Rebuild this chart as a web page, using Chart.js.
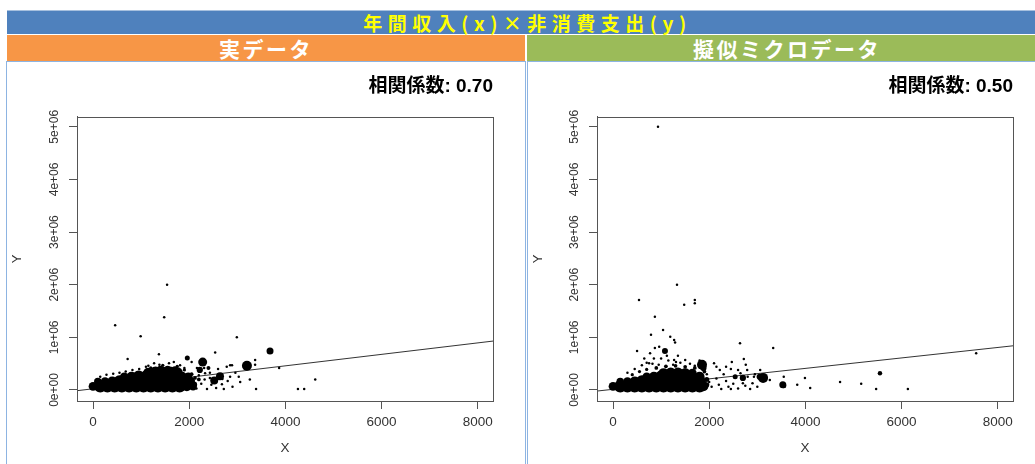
<!DOCTYPE html>
<html>
<head>
<meta charset="utf-8">
<script src="https://cdn.jsdelivr.net/npm/chart.js@4.4.1/dist/chart.umd.min.js"></script>
<style>
  html, body { margin: 0; padding: 0; background: #fff; overflow: hidden; }
  body { width: 1035px; height: 464px; position: relative; font-family: 'Noto Sans CJK JP', sans-serif; }
  #title { position: absolute; left: 7px; top: 10px; width: 1028px; height: 24px; background: #4F81BD;
           border-top: 1px solid #A7C0DE; box-sizing: border-box; padding-left: 13px;
           color: #FFFF00; font-weight: bold; font-size: 19px; line-height: 23px; text-align: center; letter-spacing: 5.5px; }
  .head { position: absolute; top: 35px; height: 26px; color: #fff; font-weight: bold; font-size: 21px;
          line-height: 26px; text-align: center; letter-spacing: 2.5px; box-sizing: border-box; }
  #h1 { left: 7px; width: 518px; background: #F79646; }
  #h2 { left: 527px; width: 508px; background: #9BBB59; padding-left: 12px; }
  .panel { position: absolute; top: 61px; height: 420px; box-sizing: border-box; border: 1px solid #8DB4E2; }
  #p1 { left: 6px; width: 520px; }
  #p2 { left: 527px; width: 520px; }
  canvas { position: absolute; top: 62px; }
  #c1 { left: 7px; }
  #c2 { left: 528px; }
</style>
</head>
<body>
<div id="title">年間収入(x)×非消費支出(y)</div>
<div class="head" id="h1">実データ</div>
<div class="head" id="h2">擬似ミクロデータ</div>
<div class="panel" id="p1"></div>
<div class="panel" id="p2"></div>
<canvas id="c1" width="518" height="402"></canvas>
<canvas id="c2" width="507" height="402"></canvas>
<script>
// axes
const xTicks = [0, 2000, 4000, 6000, 8000];
const yTicks = [0, 1000000, 2000000, 3000000, 4000000, 5000000];
const yTickLabels = ['0e+00', '1e+06', '2e+06', '3e+06', '4e+06', '5e+06'];
const xRange = [-333, 8316];
const yRange = [-209000, 5190000];

// correlation and fitted line (intercept, slope)
const corrReal = 0.70;
const corrMicro = 0.50;
const fitReal = [23000, 109];
const fitMicro = [13000, 99.4];

// points: [income x, non-consumption y, weight]
const realPts = [
  // dense mass
  [0,70000,3.5],[150,70000,5],[300,70000,5],[450,70000,5],[600,70000,5],[750,70000,5],
  [900,70000,5],[1050,70000,5],[1200,70000,5],[1350,70000,5],[1500,70000,5],[1650,70000,5],
  [1800,70000,5],[1950,70000,4],[2080,60000,3],
  [100,160000,3],[250,160000,3.5],[400,160000,4],[550,160000,5],[700,160000,5],[850,160000,5],
  [1000,160000,5],[1150,160000,5],[1300,160000,5],[1450,160000,5],[1600,160000,5],
  [1750,160000,5],[1900,160000,4],[2030,170000,3.5],
  [650,250000,3.5],[800,250000,4],[950,250000,5],[1100,250000,5],[1250,250000,5],
  [1400,250000,5],[1550,250000,5],[1700,250000,5],[1850,250000,4],[1980,260000,3],
  [1150,330000,4],[1300,330000,5],[1450,330000,5],[1600,330000,5],[1750,330000,4.5],
  [1400,400000,2.5],[1550,400000,2.5],[1700,390000,2.5],
  // larger marks
  [2100,100000,2.5],[2220,380000,2.5],[2400,420000,1.6],[1960,610000,2],[2280,530000,3.6],
  [2520,180000,3.2],[2640,260000,3.2],[3200,460000,4],[3680,740000,2.8],
  [2050,180000,2],[2120,230000,1.5],[2200,200000,1.5],[2050,300000,1.5],
  // single households
  [150,250000,1],[280,290000,1],[420,310000,1],[550,330000,1],[680,350000,1],[820,380000,1],
  [960,400000,1],[1100,440000,1],[1150,460000,1],[1270,510000,1],[1380,480000,1],
  [1580,510000,1],[1680,530000,1],[1810,470000,1],[1900,420000,1],[2050,530000,1],
  [2160,420000,1],[2330,320000,1],[2310,420000,1],
  [1200,420000,1.3],[1450,470000,1.3],[1750,450000,1.3],[1900,380000,1.3],
  [1540,2000000,1],[1480,1380000,1],[460,1230000,1],[990,1020000,1],[2990,1000000,1],
  [720,590000,1],[1370,680000,1],[2540,710000,1],
  [2000,250000,1],[2080,150000,1],[2150,30000,1],[2200,280000,1],[2250,120000,1],
  [2320,200000,1],[2370,20000,1],[2430,330000,1],[2460,100000,1],[2560,40000,1],
  [2600,400000,1],[2680,110000,1],[2720,20000,1],[2780,440000,1],[2800,170000,1],
  [2850,250000,1],[2890,470000,1],[2900,60000,1],[2960,330000,1],[3030,250000,1],
  [3060,150000,1],[2690,210000,1],[2430,230000,1],
  [3260,200000,1],[3370,570000,1],[3370,480000,1],[3390,20000,1],[3870,420000,1],
  [4260,20000,1],[4390,20000,1],[4620,200000,1],[2850,470000,1]
];

const microPts = [
  // dense mass
  [0,70000,3.5],[150,70000,5],[300,70000,5],[450,70000,5],[600,70000,5],[750,70000,5],
  [900,70000,5],[1050,70000,5],[1200,70000,5],[1350,70000,5],[1500,70000,5],[1650,70000,5],
  [1800,70000,5],[1880,70000,4],
  [150,160000,3],[300,160000,3.5],[450,160000,4],[600,160000,5],[750,160000,5],[900,160000,5],
  [1050,160000,5],[1200,160000,5],[1350,160000,5],[1500,160000,5],[1650,160000,5],[1800,160000,5],
  [700,250000,3.5],[850,250000,4],[1000,250000,5],[1150,250000,5],[1300,250000,5],
  [1450,250000,5],[1600,250000,5],[1800,250000,4],
  [1050,320000,4],[1200,320000,4.5],[1350,320000,4.5],[1500,320000,4],[1650,320000,3.5],
  // larger marks
  [1850,480000,4],[1880,420000,2.5],[1080,740000,2.4],[3120,230000,4],[3050,250000,2.5],
  [3530,100000,2.8],[2700,230000,2.5],[2540,250000,2],[5550,320000,1.8],[3550,80000,2],
  [1950,200000,2],[1950,100000,2],
  // single households
  [935,5000000,1],[1330,2000000,1],[540,1710000,1],[1480,1620000,1],[1700,1710000,1],
  [1700,1650000,1],[870,1390000,1],[1040,1140000,1],[790,1050000,1],[1190,1010000,1],
  [1270,950000,1],[1290,900000,1],[500,740000,1],[960,820000,1],[2640,890000,1],
  [3330,800000,1],[2720,590000,1],[2470,530000,1],[770,700000,1],[870,800000,1],
  [1120,650000,1],[1270,570000,1],[1310,530000,1],[850,600000,1],[750,510000,1],
  [2100,510000,1],[2220,380000,1],[2760,480000,1],[2790,380000,1],[3060,380000,1],
  [2930,250000,1],[3260,190000,1],[3550,250000,1],[3830,100000,1],[3990,230000,1],
  [4100,40000,1],[4720,150000,1],[5160,120000,1],[5470,20000,1],[6130,20000,1],[7550,700000,1],
  [300,330000,1],[450,400000,1],[600,470000,1],[700,520000,1],[820,500000,1],[950,480000,1],
  [1000,600000,1],[1150,560000,1],[1250,480000,1],[1400,520000,1],[1500,570000,1],
  [1600,500000,1],[1700,460000,1],[1800,560000,1],[650,600000,1],[1350,650000,1],
  [400,290000,1.3],[550,350000,1.3],[700,390000,1.3],[900,420000,1.5],[1100,450000,1.5],
  [1300,460000,1.5],[1500,440000,1.5],[1700,420000,1.5],[1900,350000,1.5],
  [1950,300000,1],[2000,150000,1],[2050,60000,1],[2150,220000,1],[2200,100000,1],
  [2250,20000,1],[2300,300000,1],[2350,170000,1],[2400,60000,1],[2450,400000,1],
  [2500,120000,1],[2600,30000,1],[2650,320000,1],[2700,130000,1],[2750,80000,1],
  [2800,250000,1],[2850,20000,1],[2900,130000,1],[2950,300000,1],[3000,60000,1],
  [2450,20000,1],[2150,440000,1],[2350,440000,1],[2600,380000,1]
];

Chart.defaults.font.family = "'Liberation Sans', 'Noto Sans CJK JP', sans-serif";

// box round the plot region, like R's box()
const plotBox = {
  id: 'plotBox',
  afterDraw(chart) {
    const a = chart.chartArea, ctx = chart.ctx;
    ctx.save();
    ctx.strokeStyle = '#555';
    ctx.lineWidth = 1;
    ctx.strokeRect(Math.round(a.left) + 0.5, Math.round(a.top) + 0.5,
                   Math.round(a.right - a.left), Math.round(a.bottom - a.top));
    ctx.restore();
  }
};

function makeChart(id, pts, corr, fit, yWidth, padRight) {
  const line = xRange.map(x => ({ x: x, y: fit[0] + fit[1] * x }));
  return new Chart(document.getElementById(id), {
    type: 'scatter',
    data: {
      datasets: [{
        data: pts.map(p => ({ x: p[0], y: p[1], w: p[2] })),
        backgroundColor: '#000',
        borderWidth: 0,
        pointRadius: c => (c.raw ? c.raw.w * 1.25 : 0)
      }, {
        type: 'line',
        data: line,
        borderColor: '#333',
        borderWidth: 1,
        pointRadius: 0,
        fill: false
      }]
    },
    options: {
      responsive: false,
      animation: false,
      events: [],
      layout: { padding: { left: 0, right: padRight, top: 0, bottom: 8 } },
      plugins: {
        legend: { display: false },
        tooltip: { enabled: false },
        title: {
          display: true,
          text: '相関係数: ' + corr.toFixed(2),
          align: 'end',
          color: '#000',
          font: { size: 19, weight: 'bold' },
          padding: { top: 13, bottom: 19 }
        }
      },
      scales: {
        x: {
          type: 'linear',
          min: xRange[0],
          max: xRange[1],
          afterBuildTicks: s => { s.ticks = xTicks.map(v => ({ value: v })); },
          afterFit: s => { s.height = 55; },
          grid: { drawOnChartArea: false, tickLength: 8, color: '#555' },
          border: { color: '#555' },
          ticks: { color: '#333', font: { size: 13.5 }, padding: 5, maxRotation: 0, callback: v => String(v) },
          title: { display: true, text: 'X', color: '#333', font: { size: 13.5 }, padding: 0 }
        },
        y: {
          type: 'linear',
          min: yRange[0],
          max: yRange[1],
          afterBuildTicks: s => { s.ticks = yTicks.map(v => ({ value: v })); },
          afterFit: s => { s.width = yWidth; },
          grid: { drawOnChartArea: false, tickLength: 8, color: '#555' },
          border: { color: '#555' },
          ticks: {
            color: '#333', font: { size: 12 }, padding: -2.5,
            minRotation: 90, maxRotation: 90, crossAlign: 'center',
            callback: v => yTickLabels[yTicks.indexOf(v)]
          },
          title: { display: true, text: 'Y', color: '#333', font: { size: 13 }, padding: { top: 3, bottom: 0 } }
        }
      }
    },
    plugins: [plotBox]
  });
}

makeChart('c1', realPts, corrReal, fitReal, 70, 32);
makeChart('c2', microPts, corrMicro, fitMicro, 69, 22);
</script>
</body>
</html>
